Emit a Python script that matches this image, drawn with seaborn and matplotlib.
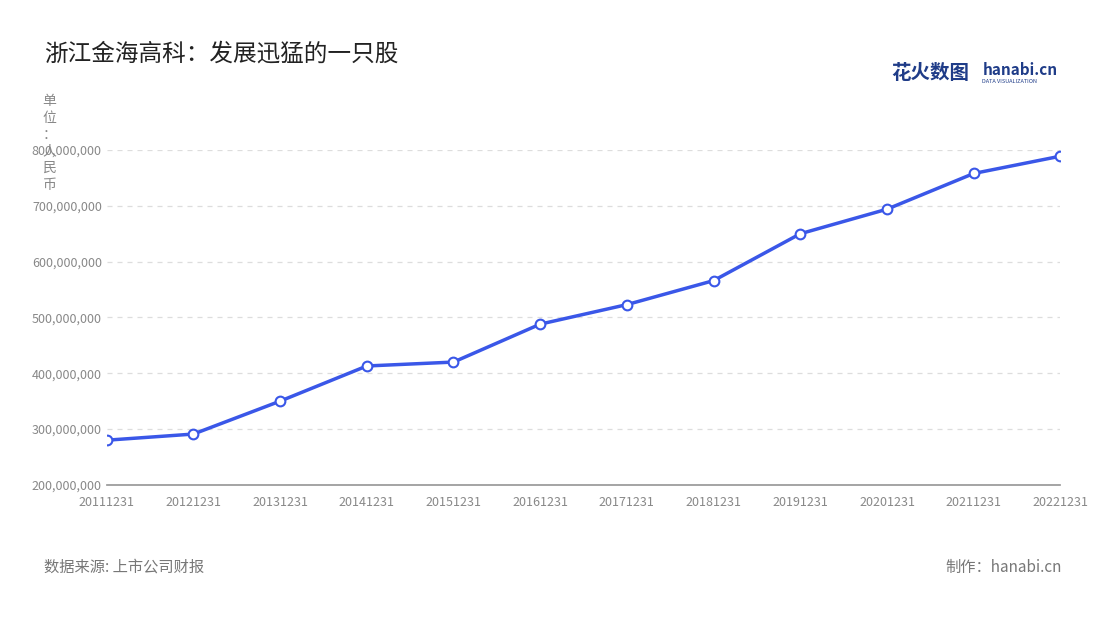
import matplotlib
matplotlib.use("Agg")
import matplotlib.pyplot as plt
import seaborn as sns
import pandas as pd
from matplotlib.ticker import FuncFormatter

dates = ["20111231","20121231","20131231","20141231","20151231","20161231",
         "20171231","20181231","20191231","20201231","20211231","20221231"]
values = [280e6, 291e6, 350e6, 413e6, 420e6, 488e6, 523e6, 566e6, 650e6, 694e6, 758e6, 789e6]

sns.set_theme(style="white")
plt.rcParams['font.family'] = ['Noto Sans CJK SC', 'DejaVu Sans']

df = pd.DataFrame({"date": dates, "value": values})
fig = plt.figure(figsize=(11, 6.2), dpi=100)
ax = fig.add_axes([0.097, 0.218, 0.867, 0.54])
sns.lineplot(data=df, x="date", y="value", ax=ax, color="#3a57e8", linewidth=2.5,
             marker="o", markersize=7, markerfacecolor="white", markeredgecolor="#3a57e8",
             markeredgewidth=1.5, sort=False)
ax.set_ylim(200e6, 800e6)
ax.set_xlim(-0.0, len(dates) - 1)
ax.set_yticks([200e6, 300e6, 400e6, 500e6, 600e6, 700e6, 800e6])
ax.yaxis.set_major_formatter(FuncFormatter(lambda v, p: f"{int(v):,}"))
ax.grid(axis="y", linestyle=(0, (4, 4)), color="#dddddd", linewidth=0.9)
for s in ["top", "right", "left"]:
    ax.spines[s].set_visible(False)
ax.spines["bottom"].set_color("#999999")
ax.tick_params(axis="both", labelsize=9, colors="#888888", length=0)
ax.tick_params(axis="x", length=4, color="#999999", pad=4)
ax.set_xlabel(""); ax.set_ylabel("")

fig.text(0.04, 0.912, "浙江金海高科：发展迅猛的一只股", fontsize=17, color="#222222", va="center")
fig.text(0.045, 0.848, "单\n位\n：\n人\n民\n币", fontsize=10, color="#888888", va="top", ha="center", linespacing=1.25)
fig.text(0.04, 0.085, "数据来源: 上市公司财报", fontsize=11, color="#777777", va="center")
fig.text(0.965, 0.085, "制作：hanabi.cn", fontsize=11, color="#777777", va="center", ha="right")
fig.text(0.81, 0.882, "花火数图", fontsize=14, color="#1f3c88", va="center", fontweight="bold")
fig.text(0.893, 0.887, "hanabi.cn", fontsize=11, color="#1f3c88", va="center", fontweight="bold")
fig.text(0.893, 0.868, "DATA VISUALIZATION", fontsize=4, color="#1f3c88", va="center")

fig.savefig("out.png", dpi=100)
